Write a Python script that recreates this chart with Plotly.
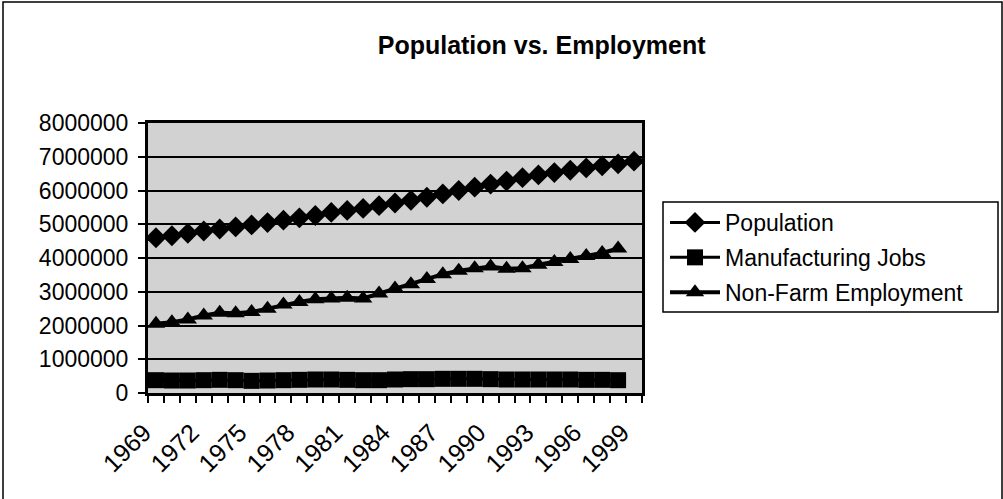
import plotly.graph_objects as go

years = list(range(1969, 2000))
population = [4600000, 4660000, 4730000, 4800000, 4860000, 4920000, 4980000, 5050000,
              5120000, 5190000, 5260000, 5350000, 5410000, 5470000, 5550000, 5630000,
              5710000, 5800000, 5900000, 6000000, 6100000, 6190000, 6280000, 6380000,
              6460000, 6530000, 6600000, 6670000, 6730000, 6790000, 6870000]
years_jobs = list(range(1969, 1999))
manufacturing = [380000, 370000, 370000, 380000, 390000, 380000, 360000, 370000,
                 380000, 390000, 400000, 400000, 390000, 380000, 380000, 400000,
                 410000, 410000, 420000, 420000, 420000, 410000, 400000, 400000,
                 400000, 400000, 400000, 390000, 390000, 380000]
nonfarm = [2050000, 2100000, 2180000, 2300000, 2380000, 2360000, 2400000, 2500000,
           2620000, 2700000, 2780000, 2800000, 2820000, 2800000, 2950000, 3100000,
           3220000, 3380000, 3520000, 3620000, 3700000, 3750000, 3680000, 3700000,
           3800000, 3880000, 3970000, 4060000, 4150000, 4280000]
label_years = years[::3]
y_ticks = [0, 1000000, 2000000, 3000000, 4000000, 5000000, 6000000, 7000000, 8000000]

FONT = "Liberation Sans, Arial, sans-serif"

# plot area in pixels: left 148, right 642, top 123, bottom 393
PL, PR, PT, PB = 148, 642, 123, 393
PW, PH = PR - PL, PB - PT


def px_x(x):
    return (x - PL) / PW


def px_y(y):
    return (PB - y) / PH


fig = go.Figure()
fig.add_trace(go.Scatter(x=years, y=population, name="Population", mode="lines+markers",
                         line=dict(color="black", width=3),
                         marker=dict(symbol="diamond", size=16, color="black"),
                         legendgroup="a"))
fig.add_trace(go.Scatter(x=years_jobs, y=manufacturing, name="Manufacturing Jobs", mode="lines+markers",
                         line=dict(color="black", width=3),
                         marker=dict(symbol="square", size=16, color="black"),
                         legendgroup="b"))
fig.add_trace(go.Scatter(x=years_jobs, y=nonfarm, name="Non-Farm Employment", mode="lines+markers",
                         line=dict(color="black", width=4),
                         marker=dict(symbol="triangle-up", size=16, color="black"),
                         legendgroup="c"))

fig.update_layout(
    width=1003, height=499,
    margin=dict(l=PL, r=1003 - PR, t=PT, b=499 - PB, autoexpand=False),
    paper_bgcolor="white",
    plot_bgcolor="#d2d2d2",
    font=dict(family=FONT, size=22, color="black"),
    title=dict(text="<b>Population vs. Employment</b>", x=0.54, xanchor="center",
               y=0.91, yanchor="middle", font=dict(family=FONT, size=25, color="black")),
    showlegend=True,
    legend=dict(x=px_x(665), xanchor="left", y=px_y(201), yanchor="top",
                borderwidth=0, bgcolor="rgba(0,0,0,0)",
                font=dict(family=FONT, size=23, color="black"),
                tracegroupgap=2, itemwidth=50, traceorder="grouped"),
    xaxis=dict(range=[1968.5, 1999.5], tickmode="array", tickvals=label_years,
               ticktext=[str(y) for y in label_years], tickangle=-45, ticks="",
               showgrid=False, zeroline=False, showline=True, linecolor="black",
               linewidth=3, mirror=True, ticklabelstandoff=12, ticklabelshift=-12,
               minor=dict(ticks="outside", tick0=1968.5, dtick=1, ticklen=7,
                          tickcolor="black", tickwidth=2, showgrid=False),
               tickfont=dict(family=FONT, size=25)),
    yaxis=dict(range=[0, 8000000], tickmode="array", tickvals=y_ticks,
               tickformat="d", ticks="outside", ticklen=7, tickcolor="black", tickwidth=2,
               showgrid=True, gridcolor="black", gridwidth=2, zeroline=False,
               showline=True, linecolor="black", linewidth=3, mirror=True,
               ticklabelstandoff=5, tickfont=dict(family=FONT, size=23)),
    shapes=[
        dict(type="rect", xref="paper", yref="paper",
             x0=px_x(3), x1=px_x(1002), y0=px_y(506), y1=px_y(2),
             line=dict(color="black", width=1.5), layer="below"),
        dict(type="rect", xref="paper", yref="paper",
             x0=px_x(663), x1=px_x(998), y0=px_y(312), y1=px_y(202),
             line=dict(color="black", width=1.5), fillcolor="white", layer="below"),
    ],
)

fig.write_html("out.html", config={"displayModeBar": False},
               post_script="document.body.style.margin='0px';")
